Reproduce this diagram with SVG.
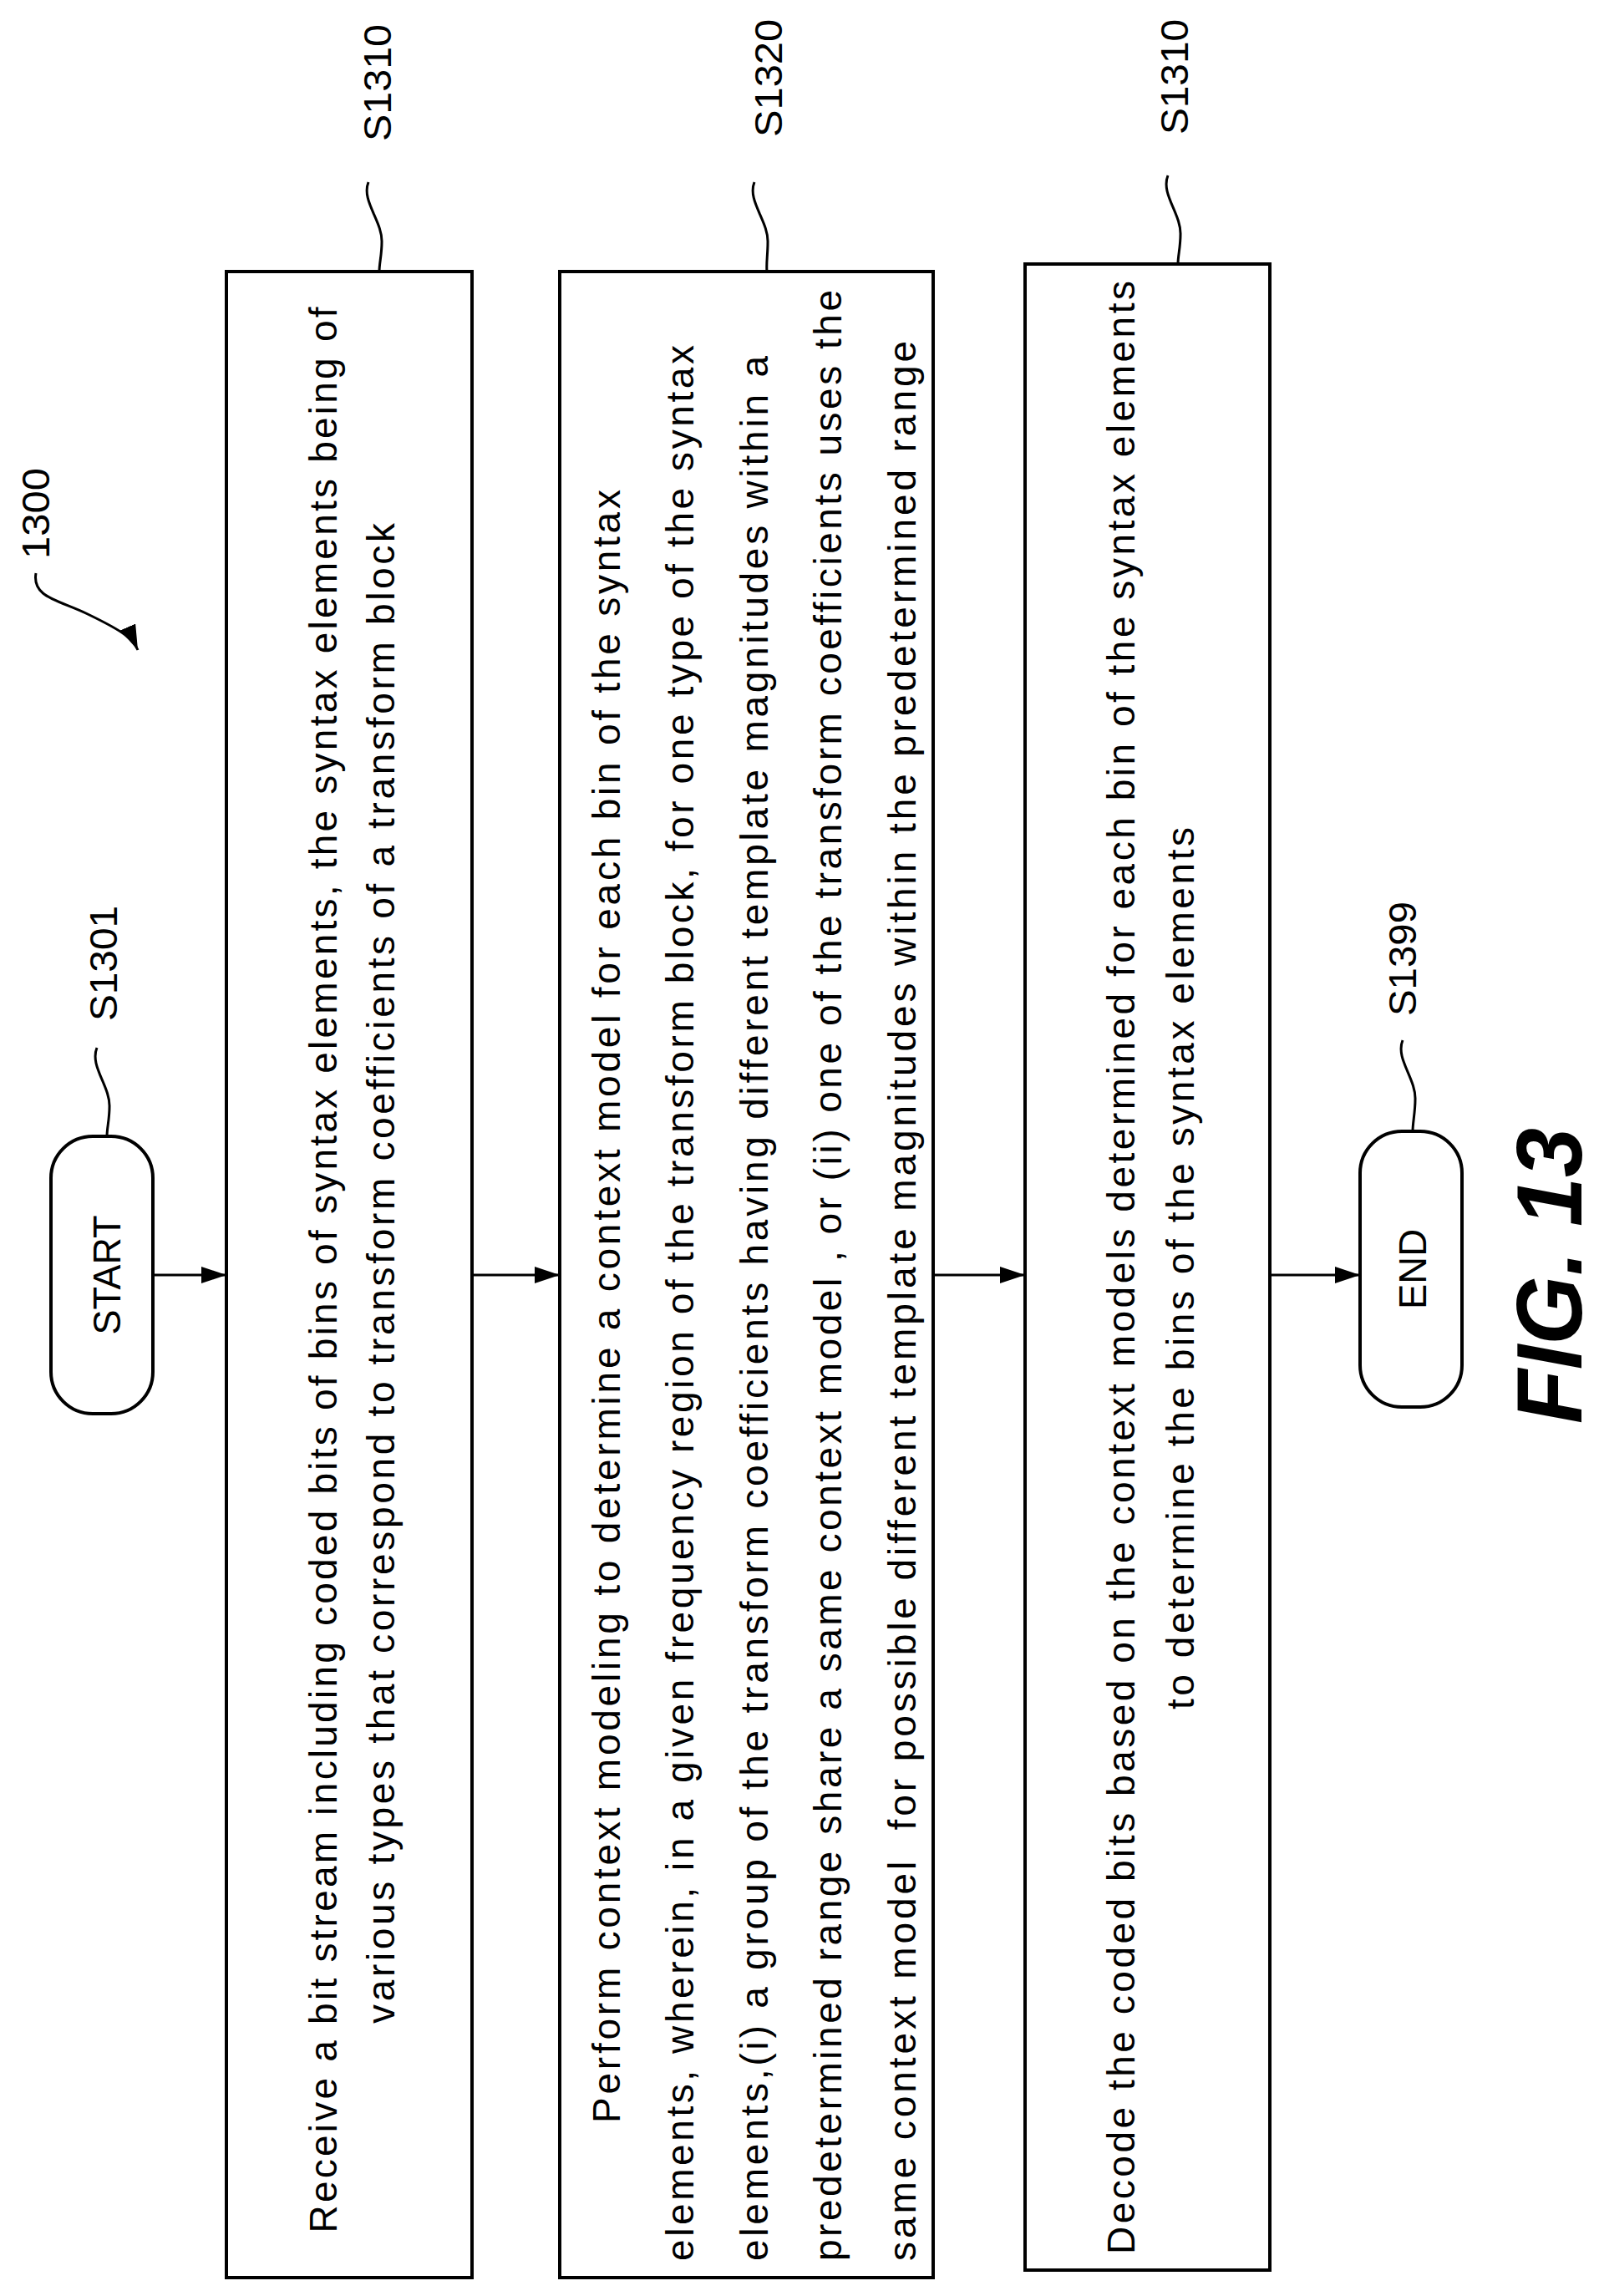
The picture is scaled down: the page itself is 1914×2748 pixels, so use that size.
<svg xmlns="http://www.w3.org/2000/svg" width="1914" height="2748" viewBox="0 0 1914 2748">
<style>
.box{fill:#fff;stroke:#000;stroke-width:4}
.term{fill:#fff;stroke:#000;stroke-width:4}
.t{font-family:"Liberation Sans",Arial,sans-serif;font-size:46px;fill:#000}
.lbl{font-family:"Liberation Sans",Arial,sans-serif;font-size:46px;fill:#000}
.ln{fill:none;stroke:#000;stroke-width:3}
.fig{font-family:"Liberation Sans",Arial,sans-serif;font-size:112px;font-weight:bold;font-style:italic;fill:#000}
</style>
<defs>
<marker id="ah" markerWidth="10" markerHeight="8" refX="10" refY="4" orient="auto" markerUnits="userSpaceOnUse" viewBox="0 0 10 8">
<path d="M0,0 L10,4 L0,8 Z" fill="#000"/>
</marker>
<marker id="ah2" viewBox="0 0 30 20" refX="30" refY="10" markerWidth="30" markerHeight="20" orient="auto" markerUnits="userSpaceOnUse">
<path d="M0,0 L30,10 L0,20 Z" fill="#000"/>
</marker>
</defs>
<rect width="1914" height="2748" fill="#fff"/>
<g id="connectors">
<line class="ln" x1="183" y1="1526" x2="271" y2="1526" marker-end="url(#ah2)"/>
<line class="ln" x1="565" y1="1526" x2="670" y2="1526" marker-end="url(#ah2)"/>
<line class="ln" x1="1117" y1="1526" x2="1227" y2="1526" marker-end="url(#ah2)"/>
<line class="ln" x1="1520" y1="1526" x2="1628" y2="1526" marker-end="url(#ah2)"/>
<path class="ln" d="M43,686 C38,715 70,718 105,735 C140,752 158,762 165,778" marker-end="url(#ah2)"/>
<path class="ln" d="M441,218 C432,240 458,265 457,290 C457,305 454,315 454,325"/>
<path class="ln" d="M903,218 C894,240 920,265 919,290 C919,305 917,315 918,325"/>
<path class="ln" d="M1398,210 C1389,232 1414,256 1413,281 C1413,296 1410,306 1410,316"/>
<path class="ln" d="M116,1254 C107,1276 132,1300 131,1325 C131,1340 128,1350 128,1360"/>
<path class="ln" d="M1679,1245 C1670,1267 1695,1291 1694,1316 C1694,1331 1691,1344 1691,1354"/>
</g>
<g id="label1300"><text class="lbl" transform="translate(59,614.5) rotate(-90)" text-anchor="middle" textLength="109" lengthAdjust="spacingAndGlyphs">1300</text></g>
<g id="start">
<rect class="term" x="61" y="1360" width="122" height="332" rx="50" ry="50"/>
<text class="t" transform="translate(144,1526) rotate(-90)" text-anchor="middle" textLength="143" lengthAdjust="spacingAndGlyphs">START</text>
<text class="lbl" transform="translate(140,1153) rotate(-90)" text-anchor="middle" textLength="138" lengthAdjust="spacingAndGlyphs">S1301</text>
</g>
<g id="s1310">
<rect class="box" x="271" y="325" width="294" height="2401"/>
<text class="t" transform="translate(403,1520) rotate(-90)" text-anchor="middle" textLength="2305" lengthAdjust="spacing">Receive a bit stream including coded bits of bins of syntax elements, the syntax elements being of</text>
<text class="t" transform="translate(472,1524) rotate(-90)" text-anchor="middle" textLength="1796" lengthAdjust="spacing">various types that correspond to transform coefficients of a transform block</text>
<text class="lbl" transform="translate(468,99) rotate(-90)" text-anchor="middle" textLength="140" lengthAdjust="spacingAndGlyphs">S1310</text>
</g>
<g id="s1320">
<rect class="box" x="670" y="325" width="447" height="2401"/>
<text class="t" transform="translate(742,2541) rotate(-90)" textLength="1955" lengthAdjust="spacing">Perform context modeling to determine a context model for each bin of the syntax</text>
<text class="t" transform="translate(830,2706) rotate(-90)" textLength="2293" lengthAdjust="spacing">elements, wherein, in a given frequency region of the transform block, for one type of the syntax</text>
<text class="t" transform="translate(919,2706) rotate(-90)" textLength="2280" lengthAdjust="spacing">elements,(i) a group of the transform coefficients having different template magnitudes within a</text>
<text class="t" transform="translate(1007,2706) rotate(-90)" textLength="2359" lengthAdjust="spacing">predetermined range share a same context model , or (ii) one of the transform coefficients uses the</text>
<text class="t" transform="translate(1096,2706) rotate(-90)" textLength="2298" lengthAdjust="spacing" xml:space="preserve">same context model  for possible different template magnitudes within the predetermined range</text>
<text class="lbl" transform="translate(936,93.5) rotate(-90)" text-anchor="middle" textLength="141" lengthAdjust="spacingAndGlyphs">S1320</text>
</g>
<g id="s1330">
<rect class="box" x="1227" y="316" width="293" height="2401"/>
<text class="t" transform="translate(1358,1517) rotate(-90)" text-anchor="middle" textLength="2362" lengthAdjust="spacing">Decode the coded bits based on the context models determined for each bin of the syntax elements</text>
<text class="t" transform="translate(1429,1518) rotate(-90)" text-anchor="middle" textLength="1056" lengthAdjust="spacing">to determine the bins of the syntax elements</text>
<text class="lbl" transform="translate(1422,92) rotate(-90)" text-anchor="middle" textLength="138" lengthAdjust="spacingAndGlyphs">S1310</text>
</g>
<g id="end">
<rect class="term" x="1628" y="1354" width="122" height="330" rx="50" ry="50"/>
<text class="t" transform="translate(1707,1519) rotate(-90)" text-anchor="middle" textLength="96" lengthAdjust="spacingAndGlyphs" font-size="50">END</text>
<text class="lbl" transform="translate(1695,1147.5) rotate(-90)" text-anchor="middle" textLength="137" lengthAdjust="spacingAndGlyphs">S1399</text>
</g>
<g id="figlabel"><text class="fig" transform="translate(1893,1527) rotate(-90)" text-anchor="middle" textLength="354" lengthAdjust="spacingAndGlyphs">FIG. 13</text></g>
</svg>
